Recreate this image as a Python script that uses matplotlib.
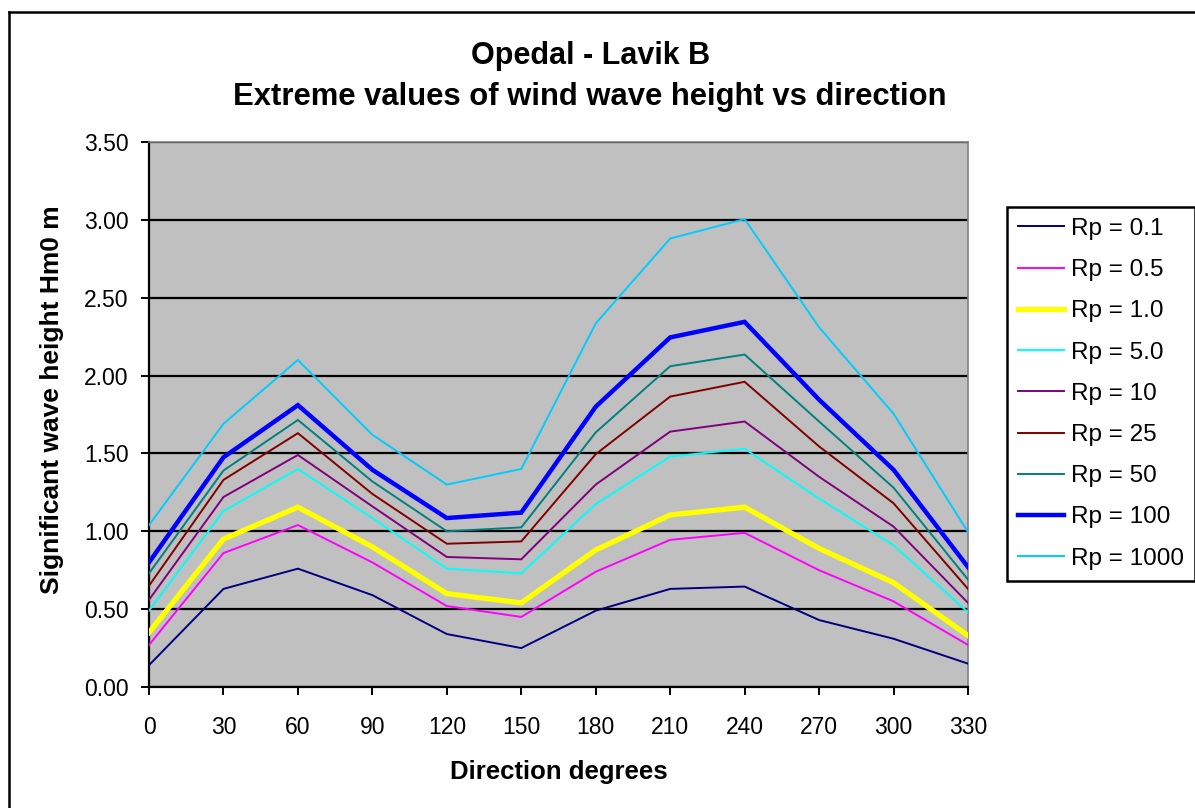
import matplotlib
matplotlib.use("Agg")
import matplotlib.pyplot as plt
from matplotlib.lines import Line2D
import numpy as np

plt.rcParams['font.family'] = ['Liberation Sans', 'DejaVu Sans']

# Direction bins (degrees)
directions = [0, 30, 60, 90, 120, 150, 180, 210, 240, 270, 300, 330]

# Significant wave height Hm0 (m) per return period
hs_rp_0_1 = [0.14, 0.63, 0.76, 0.59, 0.34, 0.25, 0.49, 0.63, 0.645, 0.43, 0.31, 0.15]
hs_rp_0_5 = [0.27, 0.86, 1.04, 0.80, 0.52, 0.45, 0.74, 0.945, 0.99, 0.75, 0.55, 0.27]
hs_rp_1_0 = [0.35, 0.95, 1.155, 0.90, 0.60, 0.54, 0.88, 1.105, 1.155, 0.89, 0.67, 0.33]
hs_rp_5_0 = [0.49, 1.13, 1.40, 1.085, 0.76, 0.73, 1.175, 1.48, 1.53, 1.21, 0.91, 0.48]
hs_rp_10 = [0.56, 1.22, 1.49, 1.16, 0.835, 0.82, 1.30, 1.64, 1.705, 1.35, 1.03, 0.54]
hs_rp_25 = [0.65, 1.33, 1.63, 1.24, 0.92, 0.935, 1.495, 1.865, 1.96, 1.545, 1.18, 0.63]
hs_rp_50 = [0.73, 1.39, 1.715, 1.32, 1.00, 1.025, 1.635, 2.06, 2.135, 1.705, 1.28, 0.69]
hs_rp_100 = [0.80, 1.475, 1.81, 1.395, 1.085, 1.12, 1.80, 2.245, 2.345, 1.845, 1.395, 0.77]
hs_rp_1000 = [1.04, 1.69, 2.10, 1.62, 1.30, 1.40, 2.335, 2.88, 3.005, 2.31, 1.755, 0.995]

labels = ["Rp = 0.1", "Rp = 0.5", "Rp = 1.0", "Rp = 5.0", "Rp = 10",
          "Rp = 25", "Rp = 50", "Rp = 100", "Rp = 1000"]
series = [hs_rp_0_1, hs_rp_0_5, hs_rp_1_0, hs_rp_5_0, hs_rp_10,
          hs_rp_25, hs_rp_50, hs_rp_100, hs_rp_1000]
colors = ["#000080", "#FF00FF", "#FFFF00", "#00FFFF", "#800080",
          "#800000", "#008080", "#0000FF", "#00CCFF"]
widths = [1.4, 1.4, 3.8, 1.4, 1.4, 1.4, 1.4, 3.2, 1.4]

W, H = 1195, 808
fig = plt.figure(figsize=(W / 100, H / 100), dpi=100)
fig.patch.set_facecolor("white")

# outer chart frame
fig.add_artist(Line2D([8.5 / W, 8.5 / W], [1 - 11.5 / H, -0.01],
                      transform=fig.transFigure, color="black", lw=1.8))
fig.add_artist(Line2D([8.5 / W, 1.01], [1 - 11.5 / H, 1 - 11.5 / H],
                      transform=fig.transFigure, color="black", lw=1.8))

ax = fig.add_axes([149 / W, 1 - 687 / H, (968 - 149) / W, (687 - 142) / H])
ax.set_facecolor("#C0C0C0")

handles = []
for y, c, lw, lab in zip(series, colors, widths, labels):
    h, = ax.plot(directions, y, color=c, lw=lw, label=lab,
                 solid_joinstyle="miter", zorder=3)
    handles.append(h)

ax.set_xlim(0, 330)
ax.set_ylim(0, 3.5)
ax.set_xticks(directions)
ax.set_yticks(np.arange(0, 3.51, 0.5))
ax.set_yticklabels([f"{v:.2f}" for v in np.arange(0, 3.51, 0.5)])
ax.yaxis.grid(True, color="black", lw=1.6, zorder=1)
ax.set_axisbelow(True)

for s in ["top", "right"]:
    ax.spines[s].set_color("#808080")
    ax.spines[s].set_linewidth(1.2)
for s in ["left", "bottom"]:
    ax.spines[s].set_color("black")
    ax.spines[s].set_linewidth(1.6)

ax.tick_params(axis="both", direction="out", length=6, width=1.4,
               labelsize=16.5, colors="black")
ax.tick_params(axis="x", pad=15)
ax.tick_params(axis="y", pad=8.5)

ax.set_xlabel("Direction degrees", fontsize=18.5, fontweight="bold", labelpad=15)
ax.set_ylabel("Significant wave height Hm0 m", fontsize=19, fontweight="bold")
ax.yaxis.set_label_coords(-0.104, 0.527)

fig.text(591 / W, 1 - 56 / H, "Opedal - Lavik B", ha="center", va="center",
         fontsize=22, fontweight="bold")
fig.text(590 / W, 1 - 97 / H, "Extreme values of wind wave height vs direction",
         ha="center", va="center", fontsize=22.3, fontweight="bold")

leg = fig.legend(handles=handles, labels=labels, loc="upper left",
                 bbox_to_anchor=(1007 / W, 1 - 207 / H),
                 bbox_transform=fig.transFigure, fontsize=17.5,
                 frameon=True, fancybox=False, framealpha=1,
                 edgecolor="black", borderaxespad=0, handlelength=1.9,
                 handletextpad=0.3, labelspacing=0.79, borderpad=0.45)
leg.get_frame().set_linewidth(1.8)

fig.savefig("out.png", dpi=100, facecolor="white")
